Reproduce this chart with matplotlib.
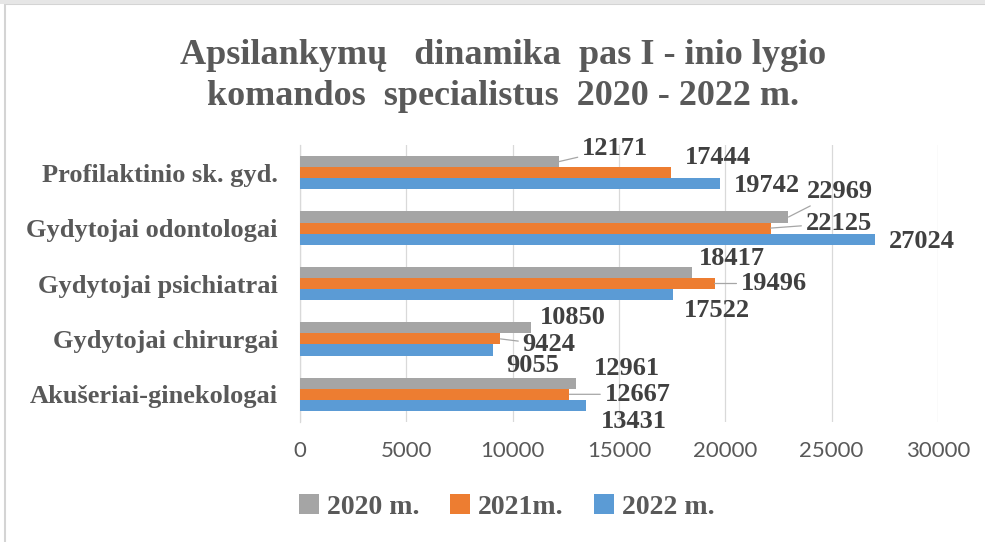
import matplotlib
matplotlib.use("Agg")
import matplotlib.pyplot as plt
from matplotlib.patches import Rectangle
import numpy as np

plt.rcParams['font.family'] = ['Liberation Serif', 'DejaVu Serif']

# data (bottom to top, as drawn)
categories = ["Akušeriai-ginekologai", "Gydytojai chirurgai", "Gydytojai psichiatrai",
              "Gydytojai odontologai", "Profilaktinio sk. gyd."]
series_names = ["2020 m.", "2021m.", "2022 m."]
v2020 = [12961, 10850, 18417, 22969, 12171]
v2021 = [12667, 9424, 19496, 22125, 17444]
v2022 = [13431, 9055, 17522, 27024, 19742]
xticks = [0, 5000, 10000, 15000, 20000, 25000, 30000]

colors = ["#a5a5a5", "#ed7d31", "#5b9bd5"]
shifts = [0.2, 0.0, -0.2]
# label offsets in pixels (dx, dy up) and whether a leader line is drawn
offsets = [
    [(18, 15), (9, 10), (7, 14), (18, 26), (23, 13)],
    [(35, 0), (22, -6), (26, 0), (35, 5), (14, 15)],
    [(15, -16), (14, -16), (11, -16), (14, -2), (14, -2)],
]
leaders = [
    [False, False, False, True, True],
    [True, True, True, True, False],
    [False, False, False, False, False],
]

fig = plt.figure(figsize=(9.85, 5.42), dpi=100)
ax = fig.add_axes([300/985, 1-422/542, 638/985, 277/542])

y = np.arange(len(categories))
for i, vals in enumerate([v2020, v2021, v2022]):
    ax.barh(y + shifts[i], vals, height=0.2, color=colors[i], label=series_names[i], zorder=3)
    for j, v in enumerate(vals):
        dx, dy = offsets[i][j]
        ap = None
        if leaders[i][j]:
            ap = dict(arrowstyle='-', color='#a6a6a6', lw=0.9, shrinkA=1, shrinkB=0)
        ax.annotate(str(v), xy=(v, y[j] + shifts[i]), xytext=(dx, dy),
                    textcoords='offset pixels', ha='left', va='center',
                    fontsize=19, fontweight='bold', color='#404040',
                    arrowprops=ap, zorder=4)

ax.set_xlim(0, 30000)
ax.set_ylim(-0.5, 4.5)
ax.set_xticks(xticks)
ax.set_xticklabels([str(t) for t in xticks], family=['Lato', 'DejaVu Sans'],
                   fontsize=16, color='#595959')
ax.set_yticks(y)
ax.set_yticklabels(categories, fontsize=19, fontweight='bold', color='#595959')
ax.tick_params(axis='both', length=0)
ax.tick_params(axis='x', pad=14)
ax.tick_params(axis='y', pad=16)
ax.grid(axis='x', color='#d9d9d9', lw=0.9, zorder=0)
for s in ['top', 'right', 'bottom']:
    ax.spines[s].set_visible(False)
ax.spines['left'].set_color('#d9d9d9')
ax.spines['left'].set_linewidth(0.9)

leg = fig.legend(loc='center', bbox_to_anchor=(507/985, 1-507/542), ncol=3, frameon=False,
                 handlelength=0.7, handleheight=0.7, handletextpad=0.3, columnspacing=1.1,
                 prop=dict(size=20, weight='bold'))
for t in leg.get_texts():
    t.set_color('#595959')

fig.text(503/985, 1-76/542, "Apsilankymų   dinamika  pas I - inio lygio\nkomandos  specialistus  2020 - 2022 m.",
         ha='center', va='center', fontsize=26, fontweight='bold', color='#595959', linespacing=1.3)

fig.patches.append(Rectangle((5/985, -0.02), 1.0, 1 - 4/542 + 0.02, transform=fig.transFigure,
                             fill=False, edgecolor='#d4d4d4', lw=1.5))
fig.patches.append(Rectangle((0, 1 - 4/542), 1, 4/542, transform=fig.transFigure,
                             color='#e6e6e6', lw=0))

fig.savefig("out.png", dpi=100)
